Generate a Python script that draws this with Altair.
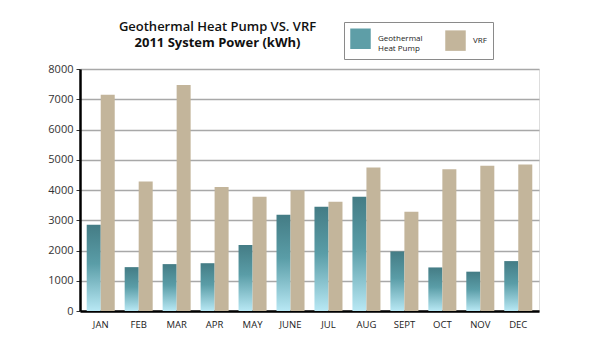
import altair as alt
import pandas as pd

months = ["JAN", "FEB", "MAR", "APR", "MAY", "JUNE", "JUL", "AUG", "SEPT", "OCT", "NOV", "DEC"]
geothermal = [2850, 1450, 1550, 1580, 2180, 3180, 3450, 3780, 1970, 1440, 1300, 1650]
vrf = [7150, 4280, 7470, 4100, 3780, 3990, 3610, 4740, 3280, 4690, 4800, 4840]
series_names = ["Geothermal Heat Pump", "VRF"]
y_ticks = [0, 1000, 2000, 3000, 4000, 5000, 6000, 7000, 8000]

df = pd.DataFrame(
    [{"month": m, "series": series_names[0], "kwh": g} for m, g in zip(months, geothermal)]
    + [{"month": m, "series": series_names[1], "kwh": v} for m, v in zip(months, vrf)]
)

FONT = "Open Sans"
TEAL = "#5e9ea7"
TAN = "#c3b59b"

x_enc = alt.X(
    "month:N",
    sort=months,
    scale=alt.Scale(paddingInner=0.262, paddingOuter=0.177),
    axis=alt.Axis(
        title=None, labelAngle=0, ticks=False, domainColor="#000", domainWidth=2.5,
        labelFont=FONT, labelFontSize=9.5, labelColor="#222", labelPadding=8, grid=False,
    ),
)
y_enc = alt.Y(
    "kwh:Q",
    scale=alt.Scale(domain=[0, 8000], nice=False),
    axis=alt.Axis(
        title=None, values=y_ticks, format="d", domainColor="#000", domainWidth=2.5,
        tickColor="#333", tickSize=4, labelFont=FONT, labelFontSize=11, labelColor="#333",
        labelPadding=3, gridColor="#a8a8a8", gridWidth=1.5,
    ),
)
xoff = alt.XOffset("series:N", scale=alt.Scale(domain=series_names, paddingInner=0, paddingOuter=0))

gradient = alt.LinearGradient(
    gradient="linear", x1=0, x2=0, y1=0, y2=1,
    stops=[
        alt.GradientStop(offset=0, color="#447c85"),
        alt.GradientStop(offset=0.45, color="#5a9da7"),
        alt.GradientStop(offset=1, color="#b8e8f4"),
    ],
)

geo_layer = alt.Chart(df).transform_filter(
    alt.datum.series == series_names[0]
).mark_bar(fill=gradient).encode(x=x_enc, y=y_enc, xOffset=xoff)

vrf_layer = alt.Chart(df).transform_filter(
    alt.datum.series == series_names[1]
).mark_bar().encode(
    x=x_enc, y=y_enc, xOffset=xoff,
    color=alt.Color(
        "series:N",
        scale=alt.Scale(domain=series_names, range=[TEAL, TAN]),
        legend=alt.Legend(
            title=None, orient="none", legendX=264, legendY=-47, direction="horizontal",
            columns=2, symbolType="square", symbolSize=420, symbolStrokeWidth=0,
            labelFont=FONT, labelFontSize=8, labelColor="#222", labelOffset=7,
            columnPadding=22, padding=6, strokeColor="#8a8a8a", fillColor="#fff",
            labelExpr="datum.label == 'Geothermal Heat Pump' ? ['Geothermal', 'Heat Pump'] : datum.label",
        ),
    ),
)

chart = alt.layer(geo_layer, vrf_layer).properties(
    width=459,
    height=242,
    title=alt.TitleParams(
        text="Geothermal Heat Pump VS. VRF",
        subtitle="2011 System Power (kWh)",
        font=FONT, fontSize=13, fontWeight=600, color="#111",
        subtitleFont=FONT, subtitleFontSize=13, subtitleFontWeight="bold", subtitleColor="#111",
        subtitlePadding=3, anchor="middle", dx=-92, offset=-28,
    ),
    autosize=alt.AutoSizeParams(type="none"),
    padding={"left": 80, "top": 69, "right": 76, "bottom": 39},
).configure_view(stroke=None).configure(background="#ffffff")

chart.save("out.html", embed_options={"renderer": "svg", "actions": False})
